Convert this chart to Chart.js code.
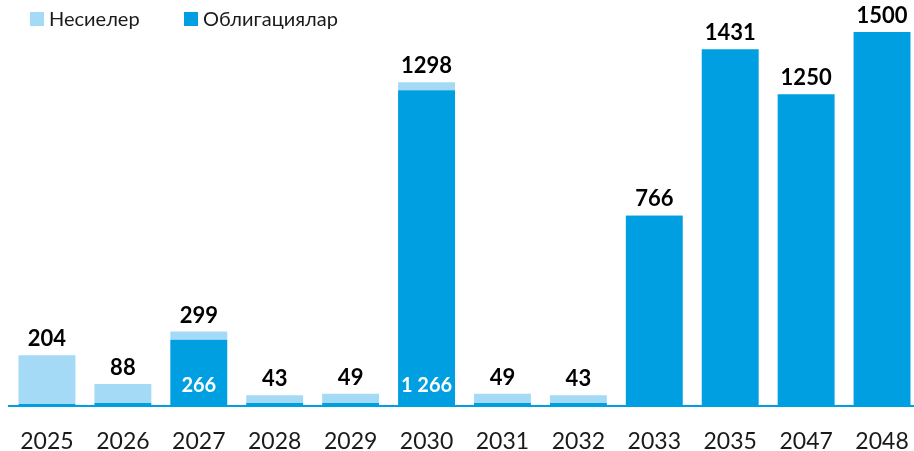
<!DOCTYPE html>
<html>
<head>
<meta charset="utf-8">
<script src="https://cdn.jsdelivr.net/npm/chart.js@4.4.0/dist/chart.umd.min.js"></script>
<style>
    html, body { margin: 0; padding: 0; background: #fff; overflow: hidden; }
    /* 캔버스를 창보다 약간 넓게: 마지막 막대가 오른쪽 끝에 붙도록 */
    #wrap { width: 920px; height: 451px; position: relative; }
</style>
</head>
<body>
<div id="wrap"><canvas id="debtChart"></canvas></div>
<script>
// ========================================================================
// 데이터
// ========================================================================
const years = ['2025', '2026', '2027', '2028', '2029', '2030', '2031', '2032', '2033', '2035', '2047', '2048'];
const bondValues = [8, 12, 266, 12, 12, 1266, 12, 12, 763, 1431, 1250, 1500];
const loanValues = [196, 76, 33, 31, 37, 32, 37, 31, 3, 0, 0, 0];
const totalLabels = ['204', '88', '299', '43', '49', '1298', '49', '43', '766', '1431', '1250', '1500'];
const innerLabels = ['', '', '266', '', '', '1 266', '', '', '', '', '', ''];

const seriesNames = ['Несиелер', 'Облигациялар'];
const lightBlue = '#A4DAF6';
const darkBlue = '#009FE1';
const fontFamily = 'Lato, "Open Sans", sans-serif';

// 막대 위/안쪽 라벨 + 범례 플러그인
const barLabelPlugin = {
    id: 'barLabels',
    afterDatasetsDraw(chart) {
        const ctx = chart.ctx;
        const x = chart.scales.x;
        const y = chart.scales.y;
        ctx.save();
        ctx.textAlign = 'center';
        ctx.textBaseline = 'middle';
        years.forEach((yr, i) => {
            const cx = x.getPixelForValue(i);
            const total = bondValues[i] + loanValues[i];
            ctx.fillStyle = '#000';
            ctx.font = 'bold 22px ' + fontFamily;
            ctx.fillText(totalLabels[i], cx, y.getPixelForValue(total) - 16);
            if (innerLabels[i]) {
                ctx.fillStyle = '#fff';
                ctx.font = 'bold 20px ' + fontFamily;
                ctx.fillText(innerLabels[i], cx, y.getPixelForValue(0) - 20);
            }
        });

        // 범례 (좌측 상단)
        const items = [
            { text: seriesNames[0], color: lightBlue, x: 30 },
            { text: seriesNames[1], color: darkBlue, x: 184 }
        ];
        ctx.textAlign = 'left';
        ctx.font = '20px ' + fontFamily;
        items.forEach(it => {
            ctx.fillStyle = it.color;
            ctx.fillRect(it.x, 12, 14, 14);
            ctx.fillStyle = '#1a1a1a';
            ctx.fillText(it.text, it.x + 19, 20);
        });
        ctx.restore();
    }
};

const chart = new Chart(document.getElementById('debtChart'), {
    type: 'bar',
    data: {
        labels: years,
        datasets: [
            {
                label: seriesNames[1],
                data: bondValues,
                backgroundColor: darkBlue,
                barPercentage: 0.75,
                categoryPercentage: 1.0
            },
            {
                label: seriesNames[0],
                data: loanValues,
                backgroundColor: lightBlue,
                barPercentage: 0.75,
                categoryPercentage: 1.0
            }
        ]
    },
    options: {
        responsive: true,
        maintainAspectRatio: false,
        animation: false,
        layout: { padding: { left: 9, right: 0, top: 32, bottom: 0 } },
        plugins: {
            legend: { display: false },
            tooltip: { enabled: false }
        },
        scales: {
            x: {
                stacked: true,
                grid: { display: false, drawTicks: false },
                border: { display: true, color: darkBlue, width: 2 },
                ticks: {
                    color: '#1a1a1a',
                    font: { size: 23, family: fontFamily },
                    padding: 22
                },
                afterFit(scale) {
                    scale.height = 45;
                    scale.paddingLeft = 0;
                    scale.paddingRight = 0;
                }
            },
            y: {
                stacked: true,
                display: false,
                min: 0,
                max: 1500
            }
        }
    },
    plugins: [barLabelPlugin]
});
</script>
</body>
</html>
